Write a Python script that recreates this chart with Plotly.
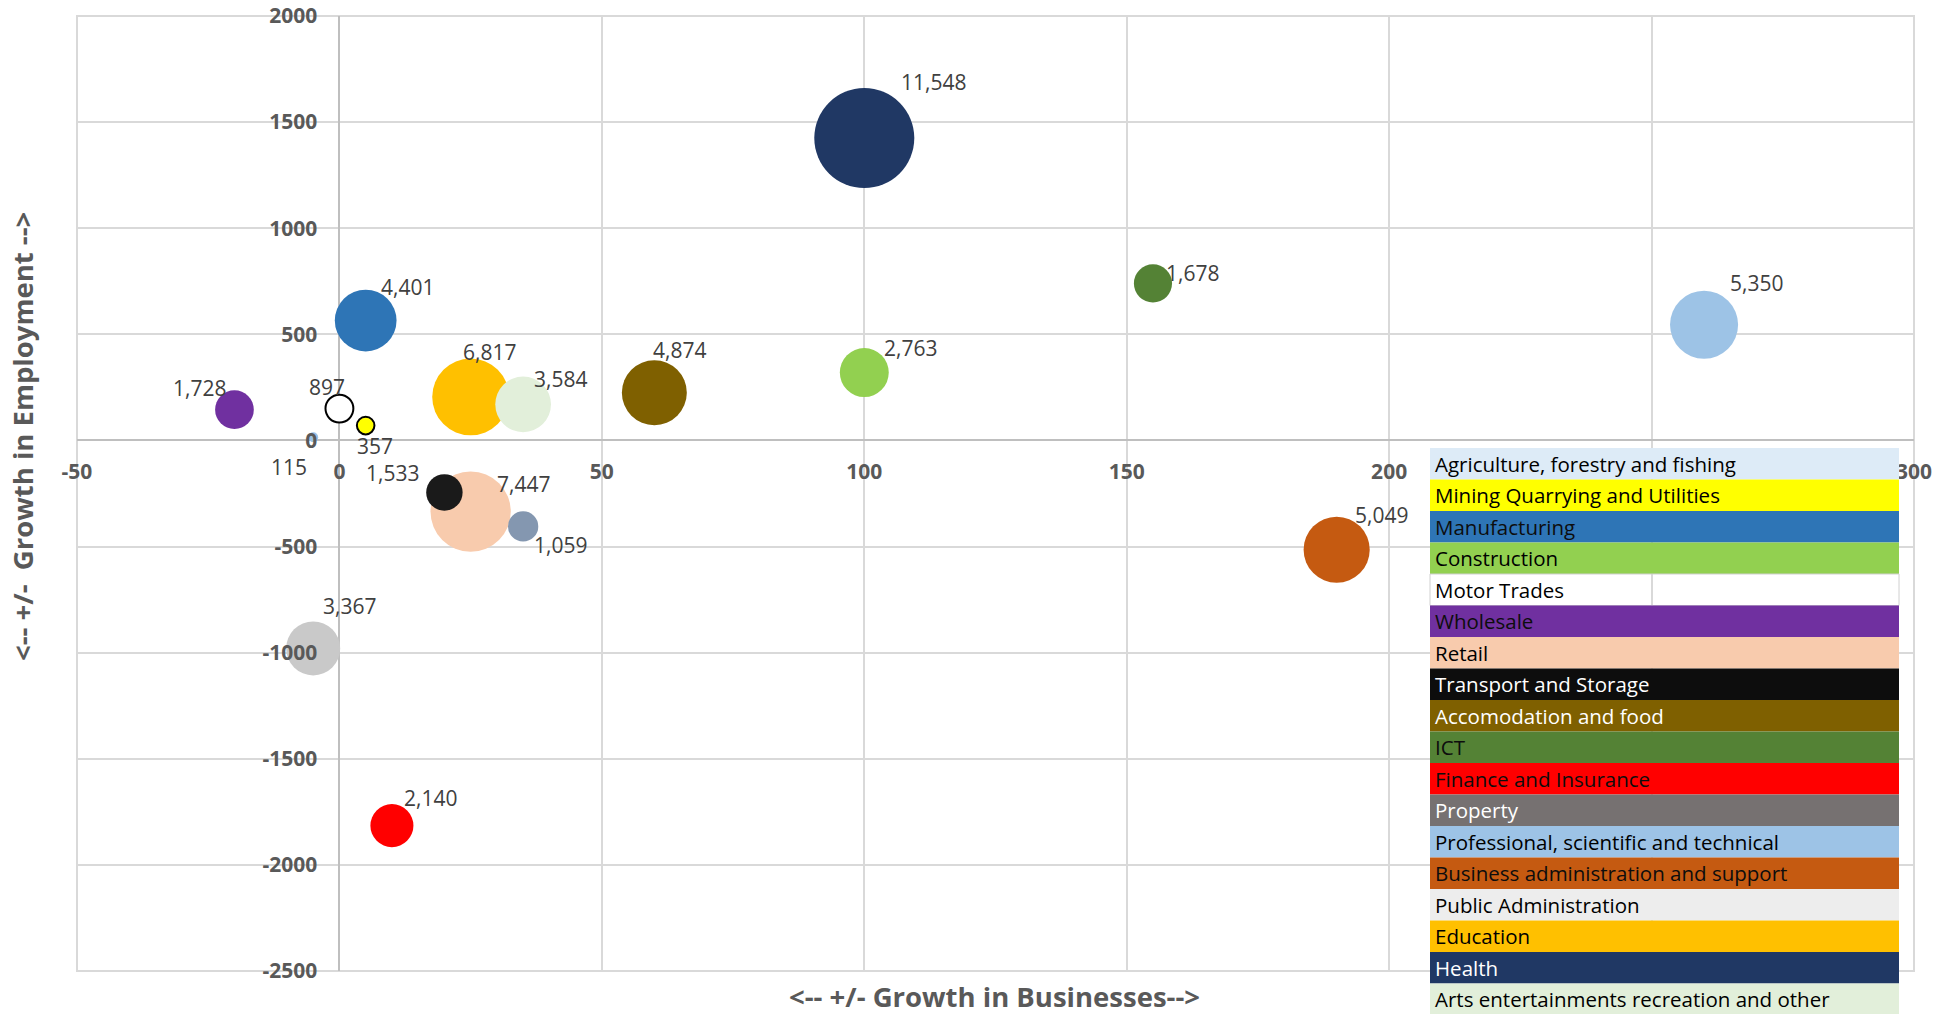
import plotly.graph_objects as go

# ---- data -------------------------------------------------------------
sectors = [
    "Agriculture, forestry and fishing",
    "Mining Quarrying and Utilities",
    "Manufacturing",
    "Construction",
    "Motor Trades",
    "Wholesale",
    "Retail",
    "Transport and Storage",
    "Accomodation and food",
    "ICT",
    "Finance and Insurance",
    "Property",
    "Professional, scientific and technical",
    "Business administration and support",
    "Public Administration",
    "Education",
    "Health",
    "Arts entertainments recreation and other",
]
business_growth = [-5, 5, 5, 100, 0, -20, 25, 20, 60, 155, 10, 35, 260, 190, -5, 25, 100, 35]
employment_growth = [15, 70, 565, 320, 150, 145, -335, -245, 225, 740, -1815, -405, 545, -515, -980, 205, 1425, 170]
employment = [115, 357, 4401, 2763, 897, 1728, 7447, 1533, 4874, 1678, 2140, 1059, 5350, 5049, 3367, 6817, 11548, 3584]

x_ticks = [-50, 0, 50, 100, 150, 200, 250, 300]
y_ticks = [-2500, -2000, -1500, -1000, -500, 0, 500, 1000, 1500, 2000]

# ---- styling ----------------------------------------------------------
bubble_colors = ["#9DC3E6", "#FFFF00", "#2E75B6", "#92D050", "#FFFFFF", "#7030A0",
                 "#F8CBAD", "#1A1A1A", "#7F6000", "#548235", "#FF0000", "#8497B0",
                 "#9DC3E6", "#C55A11", "#C9C9C9", "#FFC000", "#203864", "#E2EFDA"]
bubble_edge = ["#9DC3E6", "#000000", "#2E75B6", "#92D050", "#000000", "#7030A0",
               "#F8CBAD", "#1A1A1A", "#7F6000", "#548235", "#FF0000", "#8497B0",
               "#9DC3E6", "#C55A11", "#C9C9C9", "#FFC000", "#203864", "#E2EFDA"]
bubble_edge_w = [0, 2, 0, 0, 2, 0, 0, 0, 0, 0, 0, 0, 0, 0, 0, 0, 0, 0]
key_fills = ["#DDEBF7", "#FFFF00", "#2E75B6", "#92D050", None, "#7030A0",
             "#F8CBAD", "#0D0D0D", "#7F6000", "#548235", "#FF0000", "#767171",
             "#9DC3E6", "#C55A11", "#EDEDED", "#FFC000", "#203864", "#E2EFDA"]
key_text = ["#000000", "#000000", "#0D0D0D", "#000000", "#000000", "#0D0D0D",
            "#000000", "#FFFFFF", "#FFFFFF", "#0D0D0D", "#0D0D0D", "#FFFFFF",
            "#000000", "#0D0D0D", "#000000", "#000000", "#FFFFFF", "#000000"]
# label offsets (pixels) from each bubble centre
label_dx = [-24, 9, 42, 46, -12, -35, 53, -52, 25, 40, 39, 37, 52, 45, 36, 19, 69, 37]
label_dy = [30, 20, -34, -25, -22, -22, -28, -19, -43, -10, -28, 19, -42, -35, -42, -45, -56, -25]

FONT = "Open Sans"
W, H = 1960, 1014
L, R, T, B = 77, 46, 16, 43
PW, PH = W - L - R, H - T - B
MAX_D = 100  # pixel diameter of the largest bubble


def px_x(px):
    return (px - L) / PW


def px_y(py):
    return (H - B - py) / PH


x_range = [x_ticks[0], x_ticks[-1]]
y_range = [y_ticks[0], y_ticks[-1]]

fig = go.Figure()
fig.add_trace(go.Scatter(
    x=business_growth,
    y=employment_growth,
    mode="markers",
    text=sectors,
    marker=dict(
        size=employment,
        sizemode="area",
        sizeref=2.0 * max(employment) / MAX_D ** 2,
        color=bubble_colors,
        opacity=1,
        line=dict(color=bubble_edge, width=bubble_edge_w),
    ),
    hovertemplate="%{text}<br>%{x}, %{y}<extra></extra>",
    showlegend=False,
))

annotations = []
for xv, yv, n, dx, dy in zip(business_growth, employment_growth, employment, label_dx, label_dy):
    annotations.append(dict(
        x=xv, y=yv, xref="x", yref="y", text=f"{n:,}", showarrow=False,
        xshift=dx, yshift=-dy, font=dict(family=FONT, size=21, color="#404040"),
    ))

# axis titles
annotations.append(dict(
    x=px_x(994), y=px_y(996), xref="paper", yref="paper",
    xanchor="center", yanchor="middle",
    text="<-- +/- Growth in Businesses-->", showarrow=False,
    font=dict(family=FONT, size=27.5, color="#595959", weight="bold"),
))
annotations.append(dict(
    x=px_x(22), y=px_y(437), xref="paper", yref="paper", textangle=-90,
    xanchor="center", yanchor="middle",
    text="<-- +/-\u00a0 Growth in Employment -->", showarrow=False,
    font=dict(family=FONT, size=27.5, color="#595959", weight="bold"),
))

# coloured key table
shapes = []
KEY_L, KEY_R, KEY_T, ROW_H = 1430, 1899, 448, 31.5
for i, (name, fill, tc) in enumerate(zip(sectors, key_fills, key_text)):
    top = KEY_T + i * ROW_H
    if fill is not None:
        shapes.append(dict(
            type="rect", xref="paper", yref="paper", layer="above",
            x0=px_x(KEY_L), x1=px_x(KEY_R), y0=px_y(top), y1=px_y(top + ROW_H),
            fillcolor=fill, line=dict(width=0),
        ))
    else:
        shapes.append(dict(
            type="rect", xref="paper", yref="paper", layer="above",
            x0=px_x(KEY_L), x1=px_x(KEY_R), y0=px_y(top), y1=px_y(top + ROW_H),
            fillcolor="rgba(0,0,0,0)", line=dict(width=1, color="#D0D0D0"),
        ))
    annotations.append(dict(
        x=px_x(KEY_L + 3), y=px_y(top + ROW_H / 2), xref="paper", yref="paper",
        xanchor="left", yanchor="middle", text=name, showarrow=False,
        font=dict(family=FONT, size=20.5, color=tc),
    ))

# outer frame of the plotting area
shapes.append(dict(
    type="rect", xref="paper", yref="paper", layer="below",
    x0=0, x1=1, y0=0, y1=1, line=dict(color="#D9D9D9", width=2),
))

tick_font = dict(family=FONT, size=21, color="#595959", weight="bold")
fig.update_layout(
    width=W, height=H,
    margin=dict(l=L, r=R, t=T, b=B, pad=0, autoexpand=False),
    paper_bgcolor="white", plot_bgcolor="white",
    xaxis=dict(
        range=x_range, tickvals=x_ticks, ticktext=[str(v) for v in x_ticks],
        showgrid=True, gridcolor="#D9D9D9", gridwidth=2,
        zeroline=True, zerolinecolor="#BFBFBF", zerolinewidth=2,
        showline=False, anchor="free", automargin=False,
        position=(0 - y_range[0]) / (y_range[1] - y_range[0]),
        ticks="outside", ticklen=12, tickcolor="rgba(0,0,0,0)",
        tickfont=tick_font, fixedrange=True,
    ),
    yaxis=dict(
        range=y_range, tickvals=y_ticks, ticktext=[str(v) for v in y_ticks],
        showgrid=True, gridcolor="#D9D9D9", gridwidth=2,
        zeroline=True, zerolinecolor="#BFBFBF", zerolinewidth=2,
        showline=False, anchor="free", automargin=False,
        position=(0 - x_range[0]) / (x_range[1] - x_range[0]),
        ticks="outside", ticklen=18, tickcolor="rgba(0,0,0,0)",
        tickfont=tick_font, fixedrange=True,
    ),
    shapes=shapes,
    annotations=annotations,
    showlegend=False,
)

fig.write_html("out.html")
